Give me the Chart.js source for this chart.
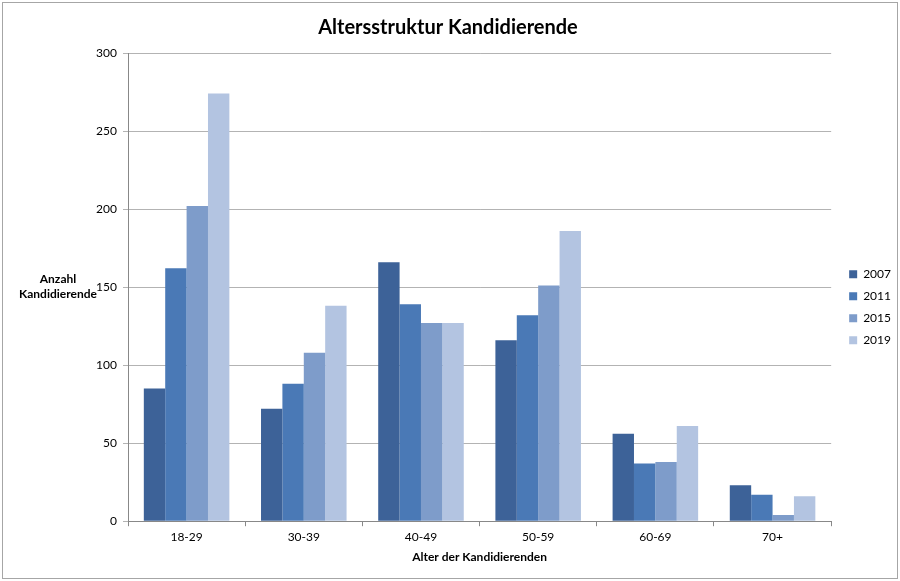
<!DOCTYPE html>
<html>
<head>
<meta charset="utf-8">
<script src="https://cdn.jsdelivr.net/npm/chart.js@4.4.1/dist/chart.umd.min.js"></script>
<style>
  html, body { margin: 0; padding: 0; background: #fff; }
  #wrap { position: relative; width: 894px; height: 575px; margin: 2px; border: 1px solid #a6a6a6; }
</style>
</head>
<body>
<div id="wrap"><canvas id="chart-alter"></canvas></div>
<script>
// Altersgruppen und Werte je Wahljahr
var labelsAlter = ['18-29', '30-39', '40-49', '50-59', '60-69', '70+'];
var jahre = ['2007', '2011', '2015', '2019'];
var data2007 = [85, 72, 166, 116, 56, 23];
var data2011 = [162, 88, 139, 132, 37, 17];
var data2015 = [202, 108, 127, 151, 38, 4];
var data2019 = [274, 138, 127, 186, 61, 16];
var yTicks = [0, 50, 100, 150, 200, 250, 300];

var farben = ['#3d6298', '#4a79b6', '#7e9cca', '#b3c4e1'];
var schrift = "Lato, 'Open Sans', sans-serif";

// Achsentitel links, horizontal in zwei Zeilen
var yTitel = {
    id: 'yTitel',
    afterLayout: function (chart) {
        // Legende etwas weiter nach rechts schieben
        chart.legend.left += 8;
        chart.legend.right += 8;
    },
    afterDraw: function (chart) {
        var ctx = chart.ctx;
        var mitte = (chart.chartArea.top + chart.chartArea.bottom) / 2;
        ctx.save();
        ctx.fillStyle = '#000';
        ctx.font = 'bold 12px ' + schrift;
        ctx.textAlign = 'center';
        ctx.textBaseline = 'middle';
        ctx.fillText('Anzahl', 55, mitte - 8);
        ctx.fillText('Kandidierende', 55, mitte + 7);
        ctx.restore();
    }
};

var datensaetze = [data2007, data2011, data2015, data2019].map(function (d, i) {
    return {
        label: jahre[i],
        data: d,
        backgroundColor: farben[i],
        borderWidth: 0,
        categoryPercentage: 0.73,
        barPercentage: 1.0
    };
});

var ctxAlter = document.getElementById('chart-alter').getContext('2d');
var chartAlter = new Chart(ctxAlter, {
    type: 'bar',
    data: {
        labels: labelsAlter,
        datasets: datensaetze
    },
    options: {
        responsive: true,
        maintainAspectRatio: false,
        animation: false,
        layout: {
            padding: { left: 0, right: 4, top: 5, bottom: 4 }
        },
        plugins: {
            title: {
                display: true,
                text: 'Altersstruktur Kandidierende',
                color: '#000',
                font: { family: schrift, size: 20, weight: 'bold' },
                padding: { top: 8, bottom: 13 }
            },
            legend: {
                position: 'right',
                title: {
                    display: true,
                    text: ' ',
                    font: { family: schrift, size: 12 },
                    padding: 9
                },
                labels: {
                    boxWidth: 8,
                    boxHeight: 8,
                    padding: 10,
                    color: '#000',
                    font: { family: schrift, size: 12 }
                }
            },
            tooltip: { enabled: false }
        },
        scales: {
            x: {
                grid: { display: true, drawOnChartArea: false, drawTicks: true, tickLength: 5, color: '#888', offset: true },
                border: { color: '#888' },
                ticks: { color: '#000', font: { family: schrift, size: 12 }, padding: 4 },
                title: {
                    display: true,
                    text: 'Alter der Kandidierenden',
                    color: '#000',
                    font: { family: schrift, size: 12, weight: 'bold' },
                    padding: { top: 1, bottom: 10 }
                }
            },
            y: {
                min: 0,
                max: 300,
                afterBuildTicks: function (axis) {
                    axis.ticks = yTicks.map(function (v) { return { value: v }; });
                },
                afterFit: function (axis) {
                    axis.width = 125;
                },
                grid: { color: '#b3b3b3', tickLength: 5 },
                border: { color: '#888' },
                ticks: { color: '#000', font: { family: schrift, size: 12 }, padding: 6 }
            }
        }
    },
    plugins: [yTitel]
});
</script>
</body>
</html>
